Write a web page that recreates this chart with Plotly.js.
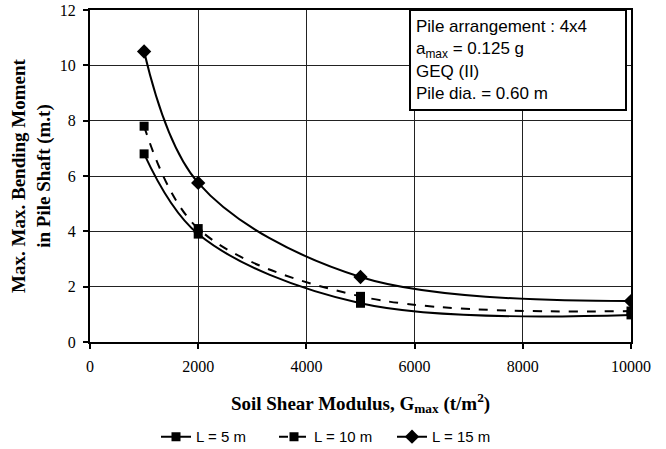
<!DOCTYPE html>
<html>
<head>
<meta charset="utf-8">
<script src="https://cdn.plot.ly/plotly-3.0.1.min.js"></script>
<style>html,body{margin:0;padding:0;background:#fff;}#chart{width:666px;height:449px;}</style>
</head>
<body>
<div id="chart"></div>
<script>
const gmax = [1000, 2000, 5000, 10000];
const momentL5 = [6.8, 3.9, 1.4, 0.98];
const momentL10 = [7.8, 4.1, 1.65, 1.12];
const momentL15 = [10.5, 5.75, 2.35, 1.48];
const seriesNames = ['L = 5 m', 'L = 10 m', 'L = 15 m'];
const xTicks = [0, 2000, 4000, 6000, 8000, 10000];
const yTicks = [0, 2, 4, 6, 8, 10, 12];

const serif = 'Liberation Serif, Times New Roman, serif';
const sans = 'Liberation Sans, Arial, sans-serif';

const traces = [
  {x: gmax, y: momentL5, name: seriesNames[0], mode: 'lines+markers',
   line: {color: '#000', width: 2, shape: 'spline', smoothing: 1},
   marker: {symbol: 'square', size: 9, color: '#000'}},
  {x: gmax, y: momentL10, name: seriesNames[1], mode: 'lines+markers',
   line: {color: '#000', width: 2, dash: 'dash', shape: 'spline', smoothing: 1},
   marker: {symbol: 'square', size: 9, color: '#000'}},
  {x: gmax, y: momentL15, name: seriesNames[2], mode: 'lines+markers',
   line: {color: '#000', width: 2, shape: 'spline', smoothing: 1},
   marker: {symbol: 'diamond', size: 11, color: '#000'}}
];

const layout = {
  width: 666, height: 449,
  margin: {l: 90, r: 35, t: 10, b: 107},
  paper_bgcolor: '#fff', plot_bgcolor: '#fff',
  showlegend: true,
  legend: {orientation: 'h', x: 0.5, xref: 'container', xanchor: 'center',
           y: 0.027, yref: 'container', yanchor: 'middle',
           entrywidth: 73, entrywidthmode: 'pixels',
           font: {family: sans, size: 15, color: '#000'}, tracegroupgap: 0},
  xaxis: {
    automargin: false,
    range: [0, 10000], tickvals: xTicks, ticktext: xTicks.map(String),
    showgrid: true, gridcolor: '#222', gridwidth: 1,
    showline: true, linecolor: '#000', linewidth: 2, mirror: true,
    ticks: 'outside', ticklen: 5, tickcolor: '#000', tickwidth: 2,
    ticklabelstandoff: 4,
    zeroline: false,
    tickfont: {family: serif, size: 16, color: '#000'},
    title: {text: '<b>Soil Shear Modulus, G<sub>max</sub> (t/m<sup>2</sup>)</b>',
            font: {family: serif, size: 19, color: '#000'}, standoff: 22}
  },
  yaxis: {
    automargin: false,
    range: [0, 12], tickvals: yTicks, ticktext: yTicks.map(String),
    showgrid: true, gridcolor: '#222', gridwidth: 1,
    showline: true, linecolor: '#000', linewidth: 2, mirror: true,
    ticks: 'outside', ticklen: 5, tickcolor: '#000', tickwidth: 2,
    ticklabelstandoff: 4,
    zeroline: false,
    tickfont: {family: serif, size: 16, color: '#000'},
    title: {text: '<b>Max. Max. Bending Moment<br>in Pile Shaft (m.t)</b>',
            font: {family: serif, size: 19, color: '#000'}, standoff: 4}
  },
  annotations: [{
    xref: 'paper', yref: 'paper', x: 0.993, y: 1.003, xanchor: 'right', yanchor: 'top',
    text: 'Pile arrangement : 4x4<br>a<sub>max</sub> = 0.125 g<br>GEQ (II)<br>Pile dia. = 0.60 m',
    align: 'left', showarrow: false, width: 204, height: 88,
    font: {family: sans, size: 17, color: '#000'},
    bgcolor: '#fff', bordercolor: '#000', borderwidth: 2, borderpad: 5
  }]
};

Plotly.newPlot('chart', traces, layout, {displayModeBar: false, staticPlot: true});
</script>
</body>
</html>
